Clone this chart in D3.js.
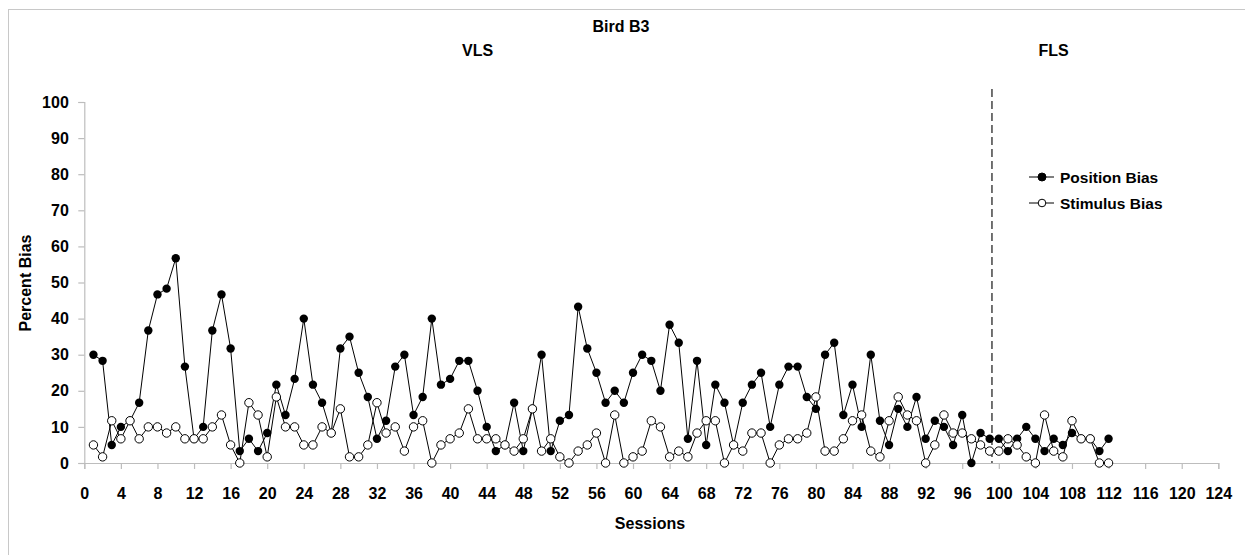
<!DOCTYPE html>
<html>
<head>
<meta charset="utf-8">
<script src="https://cdn.jsdelivr.net/npm/d3@7"></script>
<style>
  html, body { margin: 0; padding: 0; background: #fff; }
  svg { display: block; }
  text { font-family: "Liberation Sans", Arial, sans-serif; font-weight: bold; fill: #000; }
</style>
</head>
<body>
<svg id="chart" width="1245" height="555"></svg>
<script>
const title = "Bird B3";
const phaseLabels = ["VLS", "FLS"];
const phaseLabelSessions = [43, 106];
const phaseChangeSession = 99.25;
const xTicks = d3.range(0, 125, 4);
const yTicks = d3.range(0, 101, 10);
const seriesNames = ["Position Bias", "Stimulus Bias"];

const positionBias = [
  30, 28.3, 5, 10, 11.7, 16.7, 36.7, 46.7, 48.3, 56.7,
  26.7, 6.7, 10, 36.7, 46.7, 31.7, 3.3, 6.7, 3.3, 8.3,
  21.7, 13.3, 23.3, 40, 21.7, 16.7, 8.3, 31.7, 35, 25,
  18.3, 6.7, 11.7, 26.7, 30, 13.3, 18.3, 40, 21.7, 23.3,
  28.3, 28.3, 20, 10, 3.3, 5, 16.7, 3.3, 15, 30,
  3.3, 11.7, 13.3, 43.3, 31.7, 25, 16.7, 20, 16.7, 25,
  30, 28.3, 20, 38.3, 33.3, 6.7, 28.3, 5, 21.7, 16.7,
  5, 16.7, 21.7, 25, 10, 21.7, 26.7, 26.7, 18.3, 15,
  30, 33.3, 13.3, 21.7, 10, 30, 11.7, 5, 15, 10,
  18.3, 6.7, 11.7, 10, 5, 13.3, 0, 8.3, 6.7, 6.7,
  3.3, 6.7, 10, 6.7, 3.3, 6.7, 5, 8.3, 6.7, 6.7,
  3.3, 6.7
];

const stimulusBias = [
  5, 1.7, 11.7, 6.7, 11.7, 6.7, 10, 10, 8.3, 10,
  6.7, 6.7, 6.7, 10, 13.3, 5, 0, 16.7, 13.3, 1.7,
  18.3, 10, 10, 5, 5, 10, 8.3, 15, 1.7, 1.7,
  5, 16.7, 8.3, 10, 3.3, 10, 11.7, 0, 5, 6.7,
  8.3, 15, 6.7, 6.7, 6.7, 5, 3.3, 6.7, 15, 3.3,
  6.7, 1.7, 0, 3.3, 5, 8.3, 0, 13.3, 0, 1.7,
  3.3, 11.7, 10, 1.7, 3.3, 1.7, 8.3, 11.7, 11.7, 0,
  5, 3.3, 8.3, 8.3, 0, 5, 6.7, 6.7, 8.3, 18.3,
  3.3, 3.3, 6.7, 11.7, 13.3, 3.3, 1.7, 11.7, 18.3, 13.3,
  11.7, 0, 5, 13.3, 8.3, 8.3, 6.7, 5, 3.3, 3.3,
  6.7, 5, 1.7, 0, 13.3, 3.3, 1.7, 11.7, 6.7, 6.7,
  0, 0
];

const svg = d3.select("#chart");
const axisColor = "#bdbdbd";

// outer frame (only top/left edges visible)
svg.append("rect")
  .attr("x", 8.5).attr("y", 9.5)
  .attr("width", 1300).attr("height", 600)
  .attr("fill", "none").attr("stroke", "#c8c8c8").attr("stroke-width", 1);

const x = d3.scaleLinear().domain([0, 124]).range([84.3, 1218.3]);
const y = d3.scaleLinear().domain([0, 100]).range([463, 102]);

// axes
const xAxis = d3.axisBottom(x).tickValues(xTicks).tickSize(6).tickPadding(18.5).tickFormat(d3.format("d"));
const yAxis = d3.axisLeft(y).tickValues(yTicks).tickSize(6).tickPadding(9.5).tickFormat(d3.format("d"));

const gx = svg.append("g").attr("transform", `translate(0,${y(0)})`).call(xAxis);
const gy = svg.append("g").attr("transform", `translate(${x(0)},0)`).call(yAxis);
[gx, gy].forEach(g => {
  g.select(".domain").attr("stroke", axisColor).attr("stroke-width", 1.2);
  g.selectAll(".tick line").attr("stroke", axisColor).attr("stroke-width", 1.2);
  g.selectAll(".tick text")
    .attr("fill", "#000")
    .style("font-family", '"Liberation Sans", Arial, sans-serif')
    .style("font-weight", "bold")
    .style("font-size", "16px");
});

// titles
svg.append("text").attr("x", 621).attr("y", 32).attr("text-anchor", "middle")
  .style("font-size", "16px").text(title);
phaseLabels.forEach((t, i) => {
  svg.append("text").attr("x", x(phaseLabelSessions[i])).attr("y", 56).attr("text-anchor", "middle")
    .style("font-size", "16px").text(t);
});
svg.append("text").attr("x", 650).attr("y", 529).attr("text-anchor", "middle")
  .style("font-size", "16px").text("Sessions");
svg.append("text").attr("transform", "translate(31,283) rotate(-90)").attr("text-anchor", "middle")
  .style("font-size", "16px").text("Percent Bias");

// phase change line
svg.append("line")
  .attr("x1", x(phaseChangeSession)).attr("x2", x(phaseChangeSession))
  .attr("y1", 89).attr("y2", y(0))
  .attr("stroke", "#444").attr("stroke-width", 1.5).attr("stroke-dasharray", "8,4");

const line = d3.line().x((d, i) => x(i + 1)).y(d => y(d));

// position bias
svg.append("path").datum(positionBias).attr("d", line)
  .attr("fill", "none").attr("stroke", "#000").attr("stroke-width", 1);
svg.append("g").selectAll("circle").data(positionBias).join("circle")
  .attr("cx", (d, i) => x(i + 1)).attr("cy", d => y(d)).attr("r", 4.2)
  .attr("fill", "#000");

// stimulus bias
svg.append("path").datum(stimulusBias).attr("d", line)
  .attr("fill", "none").attr("stroke", "#000").attr("stroke-width", 1);
svg.append("g").selectAll("circle").data(stimulusBias).join("circle")
  .attr("cx", (d, i) => x(i + 1)).attr("cy", d => y(d)).attr("r", 4.2)
  .attr("fill", "#fff").attr("stroke", "#000").attr("stroke-width", 1);

// legend
const legendY = [177, 203];
seriesNames.forEach((name, i) => {
  const g = svg.append("g");
  g.append("line").attr("x1", 1029).attr("x2", 1054).attr("y1", legendY[i]).attr("y2", legendY[i])
    .attr("stroke", "#000").attr("stroke-width", 1);
  g.append("circle").attr("cx", 1042).attr("cy", legendY[i]).attr("r", i === 0 ? 4 : 3.8)
    .attr("fill", i === 0 ? "#000" : "#fff").attr("stroke", "#000").attr("stroke-width", 1);
  g.append("text").attr("x", 1060).attr("y", legendY[i] + 5.5)
    .style("font-size", "15.5px").text(name);
});
</script>
</body>
</html>
